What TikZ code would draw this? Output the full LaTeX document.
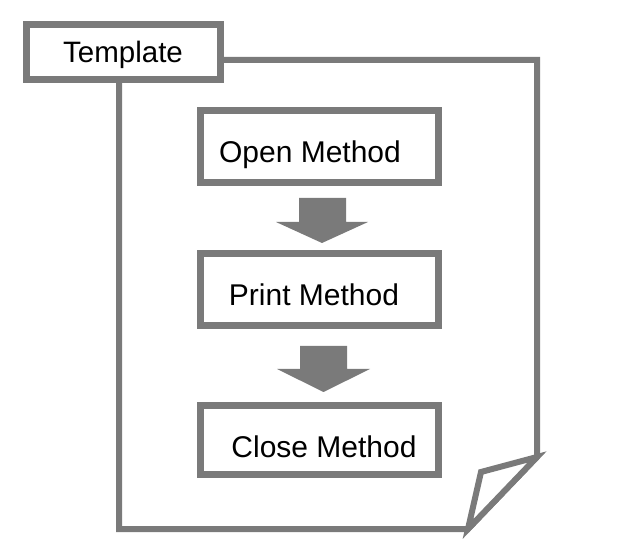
\documentclass[tikz,border=0pt]{standalone}
\usepackage{fontspec}
\setmainfont{Liberation Sans}
\definecolor{lg}{RGB}{122,122,122}
\begin{document}
\begin{tikzpicture}[x=1pt,y=-1pt,
  box/.style={draw=lg, line width=7pt, fill=white, inner sep=0pt, outer sep=0pt, line join=miter},
  page/.style={draw=lg, line width=6pt, line join=miter},
  txt/.style={inner sep=0pt, anchor=base, font=\fontsize{30}{36}\selectfont},
  arr/.style={fill=lg, draw=none}]
\useasboundingbox (0,0) rectangle (630,556);
% page outline
\draw[page] (220.5,60) -- (537,60) -- (537,457) -- (468,529) -- (119,529) -- (119,79.5);
\draw[page, fill=white] (537,457) -- (481,472) -- (468,529) -- cycle;
% template tab
\node[box, minimum width=194pt, minimum height=55pt] (tpl) at (123.5,52) {};
\node[txt, font=\fontsize{29.5}{35}\selectfont] (tpltext) at (123,63) {Template};
% method boxes
\node[box, minimum width=238pt, minimum height=72pt] (open) at (319.5,146.5) {};
\node[txt] (opentext) at (310,163) {Open Method};
\node[box, minimum width=238pt, minimum height=72pt] (print) at (319.5,289.5) {};
\node[txt] (printtext) at (314,306) {Print Method};
\node[box, minimum width=238pt, minimum height=69pt] (close) at (319.5,440) {};
\node[txt] (closetext) at (324,457) {Close Method};
% block arrows
\fill[arr] (299,198) -- (346,198) -- (346,222) -- (368,222) -- (322,243) -- (276,222) -- (299,222) -- cycle;
\fill[arr] (300,346) -- (347,346) -- (347,369) -- (370,369) -- (323.5,392) -- (277,369) -- (300,369) -- cycle;
\end{tikzpicture}
\end{document}
